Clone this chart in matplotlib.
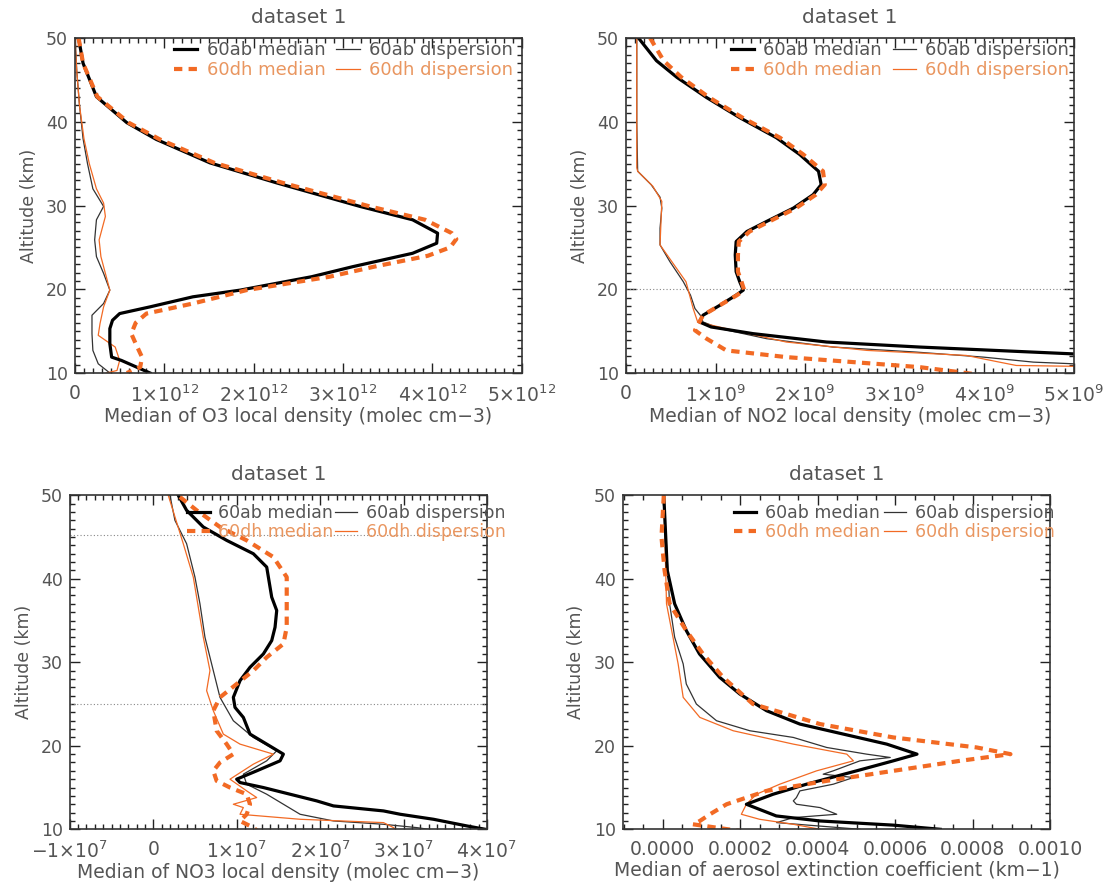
import matplotlib
matplotlib.use("Agg")
import matplotlib.pyplot as plt
from matplotlib.ticker import MultipleLocator, FuncFormatter
import numpy as np

plt.rcParams['font.family'] = ['DejaVu Sans']
plt.rcParams['mathtext.fontset'] = 'dejavusans'

GREY = '#555555'
DARK = '#222222'
ORANGE = '#f26a24'
ORANGE_TXT = '#e99660'

# ---- O3 local density (molec cm-3) ----
o3_ab_med_alt = [50, 47, 43, 39.9, 37.9, 35.1, 32.7, 29.9, 28.3, 26.7, 25.5, 24.3, 22.7, 21.5, 19.9, 19.1,
                 17.9, 17.1, 16.3, 15.3, 13.5, 11.9, 11.5, 10.0]
o3_ab_med = np.array([0.04, 0.09, 0.24, 0.58, 0.91, 1.51, 2.26, 3.19, 3.78, 4.06, 4.05, 3.78, 3.11, 2.65, 1.85, 1.32,
                      0.84, 0.50, 0.42, 0.39, 0.39, 0.41, 0.52, 0.84]) * 1e12
o3_dh_med_alt = [50, 47, 43, 39.9, 37.9, 35.1, 32.7, 29.9, 28.3, 26.7, 26.0, 25.0, 24.0, 22.7, 21.5, 19.9,
                 18.3, 17.1, 16.0, 14.7, 13.5, 11.9, 10.7, 10.0]
o3_dh_med = np.array([0.04, 0.09, 0.25, 0.6, 0.95, 1.56, 2.33, 3.3, 3.92, 4.22, 4.27, 4.2, 3.95, 3.35, 2.85, 1.92,
                      1.32, 0.80, 0.68, 0.63, 0.68, 0.75, 0.73, 0.58]) * 1e12
o3_ab_disp_alt = [50, 46, 42, 38, 35, 32, 29.9, 28.3, 25.9, 23.9, 21.9, 19.9, 18.3, 16.9, 14.7, 12.7, 11.1, 10.0]
o3_ab_disp = np.array([0.0, 0.02, 0.05, 0.09, 0.14, 0.2, 0.32, 0.24, 0.22, 0.24, 0.32, 0.39, 0.32, 0.19, 0.19,
                       0.2, 0.26, 0.39]) * 1e12
o3_dh_disp_alt = [50, 46, 42, 38, 35, 32, 30.3, 28.7, 25.9, 23.9, 21.5, 19.9, 17.9, 15.9, 14.5, 13.1, 11.5, 10.3, 10.0]
o3_dh_disp = np.array([0.0, 0.02, 0.05, 0.1, 0.16, 0.24, 0.32, 0.34, 0.27, 0.29, 0.35, 0.39, 0.32, 0.28, 0.26,
                       0.45, 0.5, 0.47, 0.35]) * 1e12

# ---- NO2 local density (molec cm-3) ----
no2_ab_med_alt = [50, 47.3, 45.3, 42.9, 40.5, 38.1, 36.1, 34.1, 32.5, 31.3, 29.7, 28.1, 26.9, 25.7, 24.1, 22.1,
                  20.9, 19.9, 19.3, 18.1, 16.9, 16.1, 15.5, 14.7, 13.7, 13.1, 12.3, 12.0]
no2_ab_med = np.array([0.14, 0.34, 0.57, 0.90, 1.27, 1.68, 1.94, 2.15, 2.18, 2.09, 1.87, 1.57, 1.35, 1.23, 1.22,
                       1.23, 1.27, 1.31, 1.23, 1.05, 0.86, 0.82, 0.95, 1.42, 2.24, 3.28, 4.96, 5.6]) * 1e9
no2_dh_med_alt = [50, 47.3, 45.3, 42.9, 40.5, 38.1, 36.1, 34.1, 32.5, 31.3, 29.7, 28.1, 26.9, 25.7, 24.1, 22.1,
                  20.9, 19.9, 19.3, 18.1, 16.9, 15.1, 14.1, 12.7, 11.9, 11.3, 10.7, 10.0, 9.7]
no2_dh_med = np.array([0.27, 0.42, 0.62, 0.93, 1.30, 1.72, 1.98, 2.2, 2.22, 2.12, 1.90, 1.60, 1.38, 1.26, 1.25,
                       1.25, 1.29, 1.32, 1.24, 1.05, 0.86, 0.77, 0.90, 1.12, 1.79, 2.54, 3.28, 3.8, 4.0]) * 1e9
no2_ab_disp_alt = [50, 40, 34.1, 32.5, 31.0, 29.7, 27.3, 25.3, 23.3, 20.9, 19.3, 17.7, 16.9, 16.1, 15.3, 14.1,
                   13.1, 12.5, 11.9, 11.3, 11.1]
no2_ab_disp = np.array([0.12, 0.12, 0.13, 0.28, 0.38, 0.40, 0.38, 0.38, 0.49, 0.64, 0.72, 0.77, 0.83, 0.86, 1.05,
                        1.57, 2.31, 3.24, 3.99, 4.55, 5.0]) * 1e9
no2_dh_disp_alt = [50, 40, 34.5, 34.1, 32.3, 30.5, 25.3, 20.9, 17.7, 16.1, 15.3, 13.7, 12.7, 12.1, 11.3, 10.9, 10.8]
no2_dh_disp = np.array([0.12, 0.12, 0.12, 0.13, 0.30, 0.40, 0.38, 0.67, 0.75, 0.80, 1.12, 1.79, 2.69, 3.8, 4.17,
                        4.36, 5.0]) * 1e9

# ---- NO3 local density (molec cm-3) ----
no3_ab_med_alt = [50, 48.2, 46.2, 44.6, 43.0, 41.4, 40.2, 37.8, 36.2, 34.2, 32.6, 31.0, 29.4, 27.8, 25.8, 24.6,
                  23.4, 21.4, 20.2, 19.0, 18.2, 17.0, 16.0, 15.6, 15.0, 14.2, 13.4, 12.8, 12.2, 11.8, 11.2, 10.4, 10.0]
no3_ab_med = np.array([0.30, 0.40, 0.60, 0.88, 1.20, 1.36, 1.38, 1.42, 1.48, 1.46, 1.42, 1.32, 1.16, 1.04, 0.96,
                       0.98, 1.08, 1.16, 1.36, 1.56, 1.52, 1.24, 1.00, 1.04, 1.32, 1.64, 1.96, 2.16, 2.76, 2.96,
                       3.36, 3.76, 3.98]) * 1e7
no3_dh_med_alt = [49.8, 48.2, 46.2, 44.6, 42.6, 40.2, 37.0, 34.2, 32.2, 30.6, 29.0, 27.4, 25.8, 24.2, 21.8, 20.2,
                  19.0, 18.0, 17.0, 15.8, 15.0, 14.2, 13.0, 11.8, 11.0, 10.2, 9.8]
no3_dh_med = np.array([0.32, 0.52, 0.80, 1.12, 1.44, 1.60, 1.60, 1.60, 1.56, 1.36, 1.20, 1.00, 0.80, 0.72, 0.76,
                       0.88, 0.96, 0.80, 0.72, 0.76, 0.92, 1.12, 1.16, 1.12, 1.04, 1.20, 1.25]) * 1e7
no3_ab_disp_alt = [50, 47.0, 44.2, 40.2, 37.0, 33.0, 29.0, 25.8, 23.0, 21.0, 19.4, 18.2, 16.6, 15.4, 14.2, 13.0,
                   11.8, 11.0, 10.6, 10.2, 10.0]
no3_ab_disp = np.array([0.20, 0.26, 0.40, 0.50, 0.56, 0.62, 0.72, 0.80, 0.96, 1.20, 1.48, 1.36, 1.08, 1.12, 1.36,
                        1.56, 1.76, 2.16, 2.76, 3.16, 3.3]) * 1e7
no3_dh_disp_alt = [50, 44.2, 40.2, 33.0, 29.0, 26.6, 24.2, 21.4, 20.2, 19.0, 17.8, 16.0, 14.6, 13.8, 13.0, 12.6,
                   11.8, 11.2, 10.8, 10.2, 9.8]
no3_dh_disp = np.array([0.18, 0.36, 0.48, 0.60, 0.68, 0.64, 0.72, 0.84, 1.04, 1.44, 1.20, 0.92, 1.12, 1.24, 0.96,
                        1.08, 1.04, 1.76, 2.76, 2.88, 2.92]) * 1e7

# ---- aerosol extinction coefficient (km-1) ----
aer_ab_med_alt = [50, 45, 41, 37, 33.8, 31, 28.2, 26.2, 24.2, 22.6, 21.4, 20.2, 19.0, 18.2, 17.0, 15.4, 14.2,
                  13.0, 11.6, 11.0, 10.5, 10.0]
aer_ab_med = np.array([0.03, 0.08, 0.12, 0.31, 0.61, 0.95, 1.47, 1.99, 2.68, 3.54, 4.66, 5.78, 6.56, 5.95, 5.0,
                       3.71, 2.85, 2.16, 2.93, 4.05, 5.94, 7.16]) * 1e-4
aer_dh_med_alt = [50, 45, 41, 37, 33.8, 31, 28.2, 25.0, 22.6, 21.0, 19.8, 19.0, 18.2, 17.0, 15.8, 14.6, 13.0,
                  11.8, 11.0, 10.6, 9.8]
aer_dh_med = np.array([0.03, -0.03, 0.05, 0.18, 0.61, 1.04, 1.56, 2.33, 4.06, 5.95, 8.10, 8.97, 7.67, 5.95, 4.23,
                       2.68, 1.65, 1.22, 0.96, 0.78, 1.99]) * 1e-4
aer_ab_disp_alt = [50, 37, 33, 29.8, 27.4, 25.0, 23.0, 21.8, 21.0, 19.8, 19.0, 18.6, 18.2, 17.0, 16.6, 16.2,
                   15.4, 14.6, 13.8, 13.4, 13.0, 12.6, 11.8, 11.4, 10.8, 10.0]
aer_ab_disp = np.array([0.03, 0.18, 0.31, 0.53, 0.61, 0.87, 1.39, 2.25, 3.37, 4.23, 5.26, 5.87, 5.09, 4.40, 4.14,
                        4.92, 4.40, 3.54, 3.45, 3.37, 3.45, 4.06, 4.49, 3.37, 2.94, 5.09]) * 1e-4
aer_dh_disp_alt = [50, 37, 29.8, 25.8, 23.4, 21.8, 20.2, 19.0, 18.2, 17.0, 15.4, 14.2, 13.0, 11.8, 11.2, 10.6, 10.0]
aer_dh_disp = np.array([0.03, 0.10, 0.40, 0.53, 0.96, 1.82, 3.37, 4.75, 4.92, 3.97, 3.02, 2.42, 2.16, 2.03, 2.50,
                        3.37, 4.06]) * 1e-4

legend_labels = ['60ab median', '60dh median', '60ab dispersion', '60dh dispersion']
title = 'dataset 1'


def sci_fmt(exp):
    def f(v, pos):
        m = int(round(v / 10 ** exp))
        if m == 0:
            return '0'
        if m < 0:
            return r'$-%d{\times}10^{%d}$' % (-m, exp)
        return r'$%d{\times}10^{%d}$' % (m, exp)
    return FuncFormatter(f)


def plain_fmt(v, pos):
    if abs(v) < 1e-12:
        v = 0.0
    return '%.4f' % v


def panel(rect, data, xlim, major, minor, fmt, xlabel, hlines, leg_anchor, leg_size, colspace):
    ab_med, dh_med, ab_disp, dh_disp = data
    ax = fig.add_axes(rect)
    for y in hlines:
        ax.axhline(y, color='#888888', lw=0.8, ls=(0, (1, 2)))
    l3, = ax.plot(ab_disp[1], ab_disp[0], color='#333333', lw=0.9)
    l4, = ax.plot(dh_disp[1], dh_disp[0], color=ORANGE, lw=0.9)
    l1, = ax.plot(ab_med[1], ab_med[0], color='black', lw=2.3)
    l2, = ax.plot(dh_med[1], dh_med[0], color=ORANGE, lw=3.0, ls=(0, (2.0, 1.5)))
    ax.set_xlim(*xlim)
    ax.set_ylim(10, 50)
    ax.xaxis.set_major_locator(MultipleLocator(major))
    ax.xaxis.set_minor_locator(MultipleLocator(minor))
    ax.yaxis.set_major_locator(MultipleLocator(10))
    ax.yaxis.set_minor_locator(MultipleLocator(1))
    ax.xaxis.set_major_formatter(fmt)
    ax.tick_params(which='both', direction='in', top=True, right=True, color=DARK,
                   labelcolor=GREY, width=1.0)
    ax.tick_params(axis='y', labelsize=12.5)
    ax.tick_params(axis='x', labelsize=13.5)
    ax.tick_params(which='major', length=7)
    ax.tick_params(axis='y', which='major', pad=5)
    ax.tick_params(axis='x', which='major', pad=8)
    ax.tick_params(which='minor', length=3.5)
    for s in ax.spines.values():
        s.set_color('#333333')
        s.set_linewidth(1.2)
    ax.set_xlabel(xlabel, color=GREY, fontsize=13.5, labelpad=1)
    ax.set_ylabel('Altitude (km)', color=GREY, fontsize=12.5, labelpad=6)
    ax.set_title(title, color=GREY, fontsize=14.5, pad=11)
    leg = ax.legend([l1, l2, l3, l4], legend_labels, ncol=2, loc='upper right',
                    bbox_to_anchor=leg_anchor, frameon=False, fontsize=leg_size,
                    handlelength=1.3, handletextpad=0.5, columnspacing=colspace,
                    labelspacing=0.1, borderaxespad=0, borderpad=0)
    for t, c in zip(leg.get_texts(), [GREY, ORANGE_TXT, GREY, ORANGE_TXT]):
        t.set_color(c)
    return ax


fig = plt.figure(figsize=(11.08, 8.86), dpi=100)

panel([0.0677, 0.579, 0.403, 0.378],
      ((o3_ab_med_alt, o3_ab_med), (o3_dh_med_alt, o3_dh_med),
       (o3_ab_disp_alt, o3_ab_disp), (o3_dh_disp_alt, o3_dh_disp)),
      (0, 5e12), 1e12, 1e11, sci_fmt(12), 'Median of O3 local density (molec cm\u22123)',
      [], (0.98, 0.99), 13, 0.6)

panel([0.565, 0.579, 0.404, 0.378],
      ((no2_ab_med_alt, no2_ab_med), (no2_dh_med_alt, no2_dh_med),
       (no2_ab_disp_alt, no2_ab_disp), (no2_dh_disp_alt, no2_dh_disp)),
      (0, 5e9), 1e9, 1e8, sci_fmt(9), 'Median of NO2 local density (molec cm\u22123)',
      [20], (0.99, 0.99), 13, 0.6)

panel([0.063, 0.064, 0.3765, 0.377],
      ((no3_ab_med_alt, no3_ab_med), (no3_dh_med_alt, no3_dh_med),
       (no3_ab_disp_alt, no3_ab_disp), (no3_dh_disp_alt, no3_dh_disp)),
      (-1e7, 4e7), 1e7, 1e6, sci_fmt(7), 'Median of NO3 local density (molec cm\u22123)',
      [45.3, 25], (1.045, 0.975), 12.5, 0.05)

panel([0.562, 0.064, 0.386, 0.377],
      ((aer_ab_med_alt, aer_ab_med), (aer_dh_med_alt, aer_dh_med),
       (aer_ab_disp_alt, aer_ab_disp), (aer_dh_disp_alt, aer_dh_disp)),
      (-0.000103, 0.0010), 0.0002, 0.00005, FuncFormatter(plain_fmt),
      'Median of aerosol extinction coefficient (km\u22121)',
      [], (1.01, 0.975), 12.5, 0.2)

fig.savefig('out.png', dpi=100)
